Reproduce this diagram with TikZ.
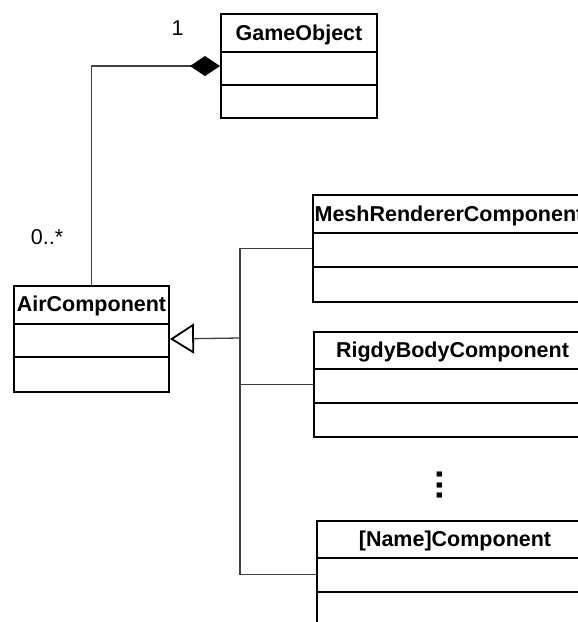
\documentclass[tikz,border=0pt]{standalone}
\usepackage{fontspec}
\setmainfont{Liberation Sans}
\usetikzlibrary{arrows.meta}
\tikzset{
  clsbox/.style={draw=black, line width=2pt, rectangle, inner sep=0pt, anchor=north west},
  clsline/.style={draw=black, line width=2pt},
  clstitle/.style={font=\fontsize{21.5}{25}\selectfont\bfseries, inner sep=0pt, anchor=base},
  mult/.style={font=\fontsize{21.5}{25}\selectfont, inner sep=0pt, anchor=base},
  conn/.style={draw=black!75, line width=1.3pt},
}
\begin{document}
\begin{tikzpicture}[x=1pt,y=-1pt]
\useasboundingbox (0,0) rectangle (578,622);
\clip (0,0) rectangle (578,622);
% class boxes
\node[clsbox, minimum width=156pt, minimum height=104pt] (go) at (220,13) {};
\node[clsbox, minimum width=155pt, minimum height=106pt] (air) at (13,285) {};
\node[clsbox, minimum width=272pt, minimum height=107pt] (mesh) at (312,194) {};
\node[clsbox, minimum width=277pt, minimum height=105pt] (rigid) at (313,331) {};
\node[clsbox, minimum width=276pt, minimum height=107pt] (name) at (316,520) {};
% compartment lines
\draw[clsline] (go.west |- 0,52) -- (go.east |- 0,52);
\draw[clsline] (go.west |- 0,85) -- (go.east |- 0,85);
\draw[clsline] (air.west |- 0,324) -- (air.east |- 0,324);
\draw[clsline] (air.west |- 0,357) -- (air.east |- 0,357);
\draw[clsline] (mesh.west |- 0,233) -- (mesh.east |- 0,233);
\draw[clsline] (mesh.west |- 0,267) -- (mesh.east |- 0,267);
\draw[clsline] (rigid.west |- 0,369) -- (rigid.east |- 0,369);
\draw[clsline] (rigid.west |- 0,403) -- (rigid.east |- 0,403);
\draw[clsline] (name.west |- 0,558) -- (name.east |- 0,558);
\draw[clsline] (name.west |- 0,592) -- (name.east |- 0,592);
% titles
\node[clstitle] (got) at (go.north |- 0,40) {GameObject};
\node[clstitle] (airt) at (air.north |- 0,311.5) {AirComponent};
\node[clstitle] (mesht) at (mesh.north |- 0,221) {MeshRendererComponent};
\node[clstitle] (rigidt) at (rigid.north |- 0,357.5) {RigdyBodyComponent};
\node[clstitle] (namet) at (name.north |- 0,546.5) {[Name]Component};
% multiplicities
\node[mult] (m1) at (177.5,35) {1};
\node[mult] (m2) at (47,244) {0..*};
% dots
\node[font=\fontsize{36}{36}\selectfont\bfseries, rotate=90, inner sep=0pt] (dots) at (440,485) {...};
% composition
\coordinate (gocomp) at (go.west |- 0,66);
\draw[conn, {Diamond[length=30pt, width=20pt, color=black, fill=black]}-] (gocomp) -| (air.north);
% inheritance
\coordinate (j) at (240,338);
\draw[conn, -{Triangle[open, length=24pt, width=30pt, color=black, line width=1.8pt]}] (j) -- (air.east);
\draw[conn] (mesh.west) -| (j);
\draw[conn] (rigid.west) -| (j);
\draw[conn] (name.west) -| (j);
\end{tikzpicture}
\end{document}
